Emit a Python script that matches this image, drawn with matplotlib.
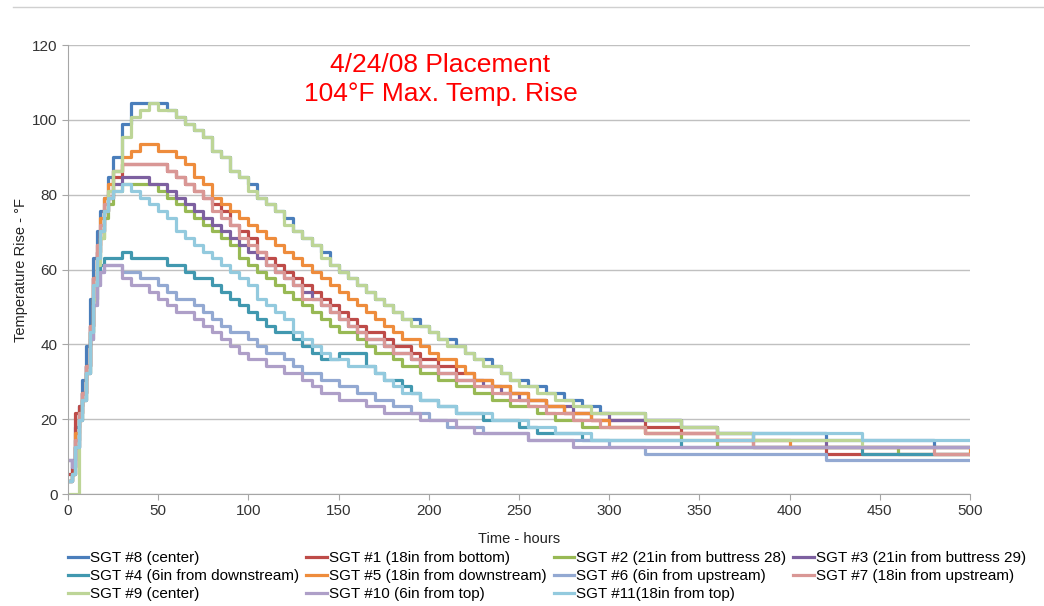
import matplotlib
matplotlib.use("Agg")
import matplotlib.pyplot as plt
from matplotlib.lines import Line2D

plt.rcParams['font.family'] = ['Liberation Sans', 'DejaVu Sans']

# sample times (hours); readings are quantised to 1 degC (1.8 degF) steps
hours = ([0, 2, 4, 6, 8, 10, 12, 14, 16, 18, 20, 22, 25, 30, 35, 40, 45]
         + list(range(50, 301, 5))
         + [320, 340, 360, 380, 400, 420, 440, 460, 480, 500])

sgt8 = [3.6, 9, 18, 23.4, 30.6, 39.6, 52.2, 63, 70.2, 75.6, 79.2, 84.6, 90, 99, 104.4, 104.4, 104.4,
        104.4, 102.6, 100.8, 99, 97.2, 95.4, 91.8, 90, 86.4, 84.6,
        82.8, 79.2, 77.4, 75.6, 73.8, 70.2, 68.4, 66.6, 64.8, 61.2,
        59.4, 57.6, 55.8, 54, 52.2, 50.4, 48.6, 46.8, 46.8, 45,
        43.2, 41.4, 41.4, 39.6, 37.8, 36, 36, 34.2, 32.4, 30.6,
        30.6, 28.8, 28.8, 27, 27, 25.2, 25.2, 23.4, 23.4, 21.6,
        21.6,
        19.8, 18, 16.2, 16.2, 16.2, 14.4, 14.4, 14.4, 12.6, 12.6]
sgt1 = [5.4, 7.2, 21.6, 23.4, 27, 34.2, 45, 57.6, 64.8, 70.2, 75.6, 79.2, 84.6, 88.2, 88.2, 88.2, 88.2,
        88.2, 86.4, 84.6, 82.8, 81, 79.2, 77.4, 75.6, 72, 70.2,
        68.4, 64.8, 63, 61.2, 59.4, 57.6, 55.8, 54, 52.2, 50.4,
        48.6, 46.8, 45, 43.2, 43.2, 41.4, 39.6, 39.6, 37.8, 36,
        36, 34.2, 34.2, 32.4, 32.4, 30.6, 30.6, 28.8, 28.8, 27,
        27, 25.2, 25.2, 23.4, 23.4, 21.6, 21.6, 21.6, 19.8, 19.8,
        19.8,
        18, 16.2, 14.4, 12.6, 12.6, 10.8, 10.8, 10.8, 10.8, 10.8]
sgt2 = [3.6, 5.4, 12.6, 19.8, 25.2, 32.4, 43.2, 55.8, 63, 68.4, 73.8, 77.4, 81, 82.8, 82.8, 82.8, 82.8,
        81, 79.2, 77.4, 75.6, 73.8, 72, 70.2, 68.4, 66.6, 63,
        61.2, 59.4, 57.6, 55.8, 54, 52.2, 50.4, 48.6, 46.8, 45,
        43.2, 43.2, 41.4, 39.6, 37.8, 37.8, 36, 34.2, 34.2, 32.4,
        32.4, 30.6, 30.6, 28.8, 28.8, 27, 27, 25.2, 25.2, 23.4,
        23.4, 23.4, 21.6, 21.6, 19.8, 19.8, 19.8, 18, 18, 18,
        18,
        16.2, 14.4, 12.6, 12.6, 12.6, 12.6, 12.6, 10.8, 10.8, 10.8]
sgt3 = [9, 7.2, 12.6, 21.6, 27, 34.2, 45, 57.6, 64.8, 70.2, 75.6, 79.2, 82.8, 84.6, 84.6, 84.6, 82.8,
        82.8, 81, 79.2, 77.4, 75.6, 73.8, 72, 70.2, 68.4, 66.6,
        64.8, 63, 61.2, 59.4, 57.6, 55.8, 54, 52.2, 50.4, 48.6,
        46.8, 45, 43.2, 41.4, 41.4, 39.6, 37.8, 37.8, 36, 34.2,
        34.2, 32.4, 32.4, 30.6, 30.6, 30.6, 28.8, 28.8, 27, 27,
        25.2, 25.2, 25.2, 23.4, 23.4, 23.4, 21.6, 21.6, 21.6, 21.6,
        19.8,
        19.8, 18, 16.2, 14.4, 14.4, 12.6, 12.6, 12.6, 12.6, 12.6]
sgt4 = [3.6, 5.4, 14.4, 21.6, 27, 34.2, 43.2, 52.2, 59.4, 61.2, 63, 63, 63, 64.8, 63, 63, 63,
        63, 61.2, 61.2, 59.4, 57.6, 57.6, 55.8, 54, 52.2, 50.4,
        48.6, 46.8, 45, 43.2, 43.2, 41.4, 39.6, 37.8, 36, 36,
        37.8, 37.8, 37.8, 34.2, 32.4, 30.6, 30.6, 28.8, 27, 25.2,
        25.2, 23.4, 23.4, 21.6, 21.6, 21.6, 19.8, 19.8, 19.8, 19.8,
        18, 18, 16.2, 16.2, 16.2, 16.2, 16.2, 14.4, 14.4, 14.4,
        14.4,
        14.4, 12.6, 12.6, 12.6, 12.6, 12.6, 10.8, 10.8, 10.8, 10.8]
sgt5 = [3.6, 5.4, 16.2, 21.6, 27, 34.2, 45, 57.6, 66.6, 73.8, 79.2, 82.8, 86.4, 90, 91.8, 93.6, 93.6,
        91.8, 91.8, 90, 88.2, 84.6, 82.8, 79.2, 77.4, 75.6, 73.8,
        72, 70.2, 68.4, 66.6, 64.8, 63, 61.2, 59.4, 57.6, 55.8,
        54, 52.2, 50.4, 48.6, 46.8, 45, 43.2, 41.4, 41.4, 39.6,
        37.8, 36, 36, 34.2, 32.4, 30.6, 30.6, 28.8, 28.8, 27,
        27, 25.2, 25.2, 23.4, 23.4, 21.6, 21.6, 21.6, 19.8, 19.8,
        18,
        16.2, 16.2, 14.4, 14.4, 12.6, 12.6, 12.6, 12.6, 12.6, 10.8]
sgt6 = [3.6, 5.4, 12.6, 19.8, 25.2, 32.4, 41.4, 50.4, 55.8, 59.4, 61.2, 61.2, 61.2, 59.4, 59.4, 57.6, 57.6,
        55.8, 54, 52.2, 52.2, 50.4, 48.6, 46.8, 45, 43.2, 43.2,
        41.4, 39.6, 37.8, 37.8, 36, 34.2, 32.4, 32.4, 30.6, 30.6,
        28.8, 28.8, 27, 27, 25.2, 25.2, 23.4, 23.4, 21.6, 21.6,
        19.8, 19.8, 18, 18, 18, 18, 16.2, 16.2, 16.2, 16.2,
        16.2, 14.4, 14.4, 14.4, 14.4, 14.4, 14.4, 14.4, 14.4, 14.4,
        12.6,
        10.8, 10.8, 10.8, 10.8, 10.8, 9, 9, 9, 9, 9]
sgt7 = [3.6, 5.4, 14.4, 21.6, 27, 34.2, 45, 57.6, 66.6, 72, 77.4, 81, 86.4, 88.2, 88.2, 88.2, 88.2,
        88.2, 86.4, 84.6, 82.8, 81, 79.2, 75.6, 73.8, 72, 68.4,
        66.6, 64.8, 61.2, 59.4, 57.6, 55.8, 52.2, 52.2, 50.4, 48.6,
        46.8, 45, 43.2, 41.4, 41.4, 39.6, 37.8, 37.8, 36, 34.2,
        34.2, 32.4, 32.4, 30.6, 30.6, 28.8, 28.8, 27, 27, 25.2,
        25.2, 23.4, 23.4, 21.6, 21.6, 21.6, 19.8, 19.8, 19.8, 18,
        18,
        16.2, 16.2, 14.4, 12.6, 12.6, 12.6, 12.6, 12.6, 10.8, 10.8]
sgt9 = [0, 0, 0, 19.8, 25.2, 32.4, 41.4, 52.2, 61.2, 68.4, 75.6, 81, 86.4, 95.4, 100.8, 102.6, 104.4,
        102.6, 102.6, 100.8, 99, 97.2, 95.4, 91.8, 90, 86.4, 84.6,
        81, 79.2, 77.4, 75.6, 72, 70.2, 68.4, 66.6, 63, 61.2,
        59.4, 57.6, 55.8, 54, 52.2, 50.4, 48.6, 46.8, 45, 45,
        43.2, 41.4, 39.6, 39.6, 37.8, 36, 34.2, 34.2, 32.4, 30.6,
        28.8, 28.8, 27, 27, 25.2, 25.2, 23.4, 23.4, 21.6, 21.6,
        21.6,
        19.8, 18, 16.2, 14.4, 14.4, 14.4, 12.6, 12.6, 12.6, 12.6]
sgt10 = [9, 7.2, 12.6, 19.8, 25.2, 32.4, 41.4, 50.4, 55.8, 59.4, 61.2, 61.2, 61.2, 57.6, 55.8, 55.8, 54,
         52.2, 50.4, 48.6, 48.6, 46.8, 45, 43.2, 41.4, 39.6, 37.8,
         36, 36, 34.2, 34.2, 32.4, 32.4, 30.6, 28.8, 27, 27,
         25.2, 25.2, 25.2, 23.4, 23.4, 21.6, 21.6, 21.6, 21.6, 19.8,
         19.8, 19.8, 19.8, 18, 18, 16.2, 16.2, 16.2, 16.2, 16.2,
         16.2, 14.4, 14.4, 14.4, 14.4, 14.4, 12.6, 12.6, 12.6, 12.6,
         12.6,
         12.6, 12.6, 12.6, 12.6, 12.6, 12.6, 12.6, 12.6, 12.6, 12.6]
sgt11 = [3.6, 5.4, 12.6, 19.8, 25.2, 32.4, 43.2, 55.8, 63, 70.2, 75.6, 79.2, 81, 82.8, 81, 79.2, 77.4,
         75.6, 73.8, 70.2, 68.4, 66.6, 64.8, 63, 61.2, 59.4, 57.6,
         55.8, 52.2, 50.4, 48.6, 46.8, 43.2, 41.4, 39.6, 37.8, 36,
         36, 34.2, 34.2, 34.2, 32.4, 30.6, 28.8, 27, 27, 25.2,
         25.2, 23.4, 23.4, 21.6, 21.6, 21.6, 21.6, 19.8, 19.8, 19.8,
         19.8, 18, 18, 18, 16.2, 16.2, 16.2, 16.2, 14.4, 14.4,
         14.4,
         14.4, 14.4, 14.4, 16.2, 16.2, 16.2, 14.4, 14.4, 14.4, 14.4]

series = [sgt8, sgt1, sgt2, sgt3, sgt4, sgt5, sgt6, sgt7, sgt9, sgt10, sgt11]
labels = ['SGT #8 (center)', 'SGT #1 (18in from bottom)', 'SGT #2 (21in from buttress 28)',
          'SGT #3 (21in from buttress 29)', 'SGT #4 (6in from downstream)',
          'SGT #5 (18in from downstream)', 'SGT #6 (6in from upstream)',
          'SGT #7 (18in from upstream)', 'SGT #9 (center)', 'SGT #10 (6in from top)',
          'SGT #11(18in from top)']
colors = ['#4a7ebb', '#be4b48', '#98b954', '#7d60a0', '#4198af', '#ee8c3c',
          '#93a9d2', '#d99795', '#bdd597', '#ae9fc8', '#93cade']

fig = plt.figure(figsize=(10.44, 6.06), dpi=100)
ax = fig.add_axes([0.0651, 0.1848, 0.8640, 0.7409])

lines = []
for vals, lab, col in zip(series, labels, colors):
    ln, = ax.plot(hours, vals, drawstyle='steps-post', color=col, lw=2.3, label=lab)
    lines.append(ln)

ax.set_xlim(0, 500)
ax.set_ylim(0, 120)
ax.set_xticks(range(0, 501, 50))
ax.set_yticks(range(0, 121, 20))
ax.yaxis.grid(True, color='#c0c0c0', lw=1)
ax.set_axisbelow(True)
for side in ['top', 'right']:
    ax.spines[side].set_visible(False)
for side in ['left', 'bottom']:
    ax.spines[side].set_color('#a6a6a6')
ax.tick_params(colors='#333333', labelsize=11, length=4, direction='out')
ax.tick_params(axis='both', color='#a6a6a6')

ax.set_xlabel('Time - hours', fontsize=10.5, color='#222222', labelpad=10)
ax.set_ylabel('Temperature Rise - °F', fontsize=10.5, color='#222222', labelpad=3)

ax.text(0.413, 0.982, '4/24/08 Placement\n104°F Max. Temp. Rise', transform=ax.transAxes,
        ha='center', va='top', fontsize=19, color='#ff0000', linespacing=1.28)

# legend reads row by row, matplotlib fills column by column
ncol = 4
order = [i for c in range(ncol) for i in range(c, len(lines), ncol)]
fig.legend([lines[i] for i in order], [labels[i] for i in order],
           loc='upper left', bbox_to_anchor=(0.065, 0.090), ncol=ncol, frameon=False,
           fontsize=11, handlelength=1.35, handletextpad=0.13, columnspacing=0.45,
           labelspacing=0.25, borderpad=0, borderaxespad=0)

# thin chart-area border along the top
fig.add_artist(Line2D([0.012, 1.0], [0.988, 0.988], transform=fig.transFigure,
                      color='#d0d0d0', lw=1))

fig.savefig('out.png', dpi=100)
